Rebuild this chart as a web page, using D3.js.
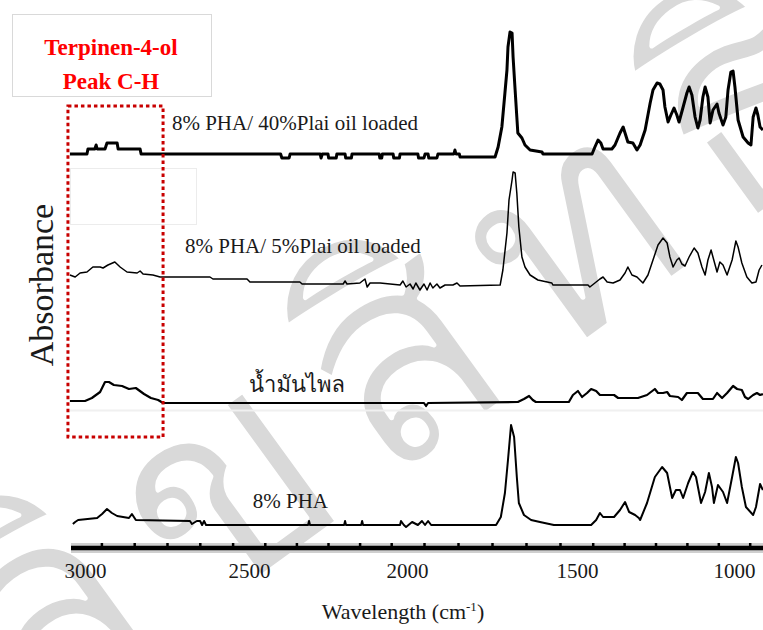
<!DOCTYPE html>
<html>
<head>
<meta charset="utf-8">
<script src="https://cdnjs.cloudflare.com/ajax/libs/d3/7.8.5/d3.min.js"></script>
<style>
body { margin: 0; background: #fff; }
svg { display: block; }
</style>
</head>
<body>
<div id="draw"></div>
<script>
// FTIR spectra, stacked. values are [wavenumber cm-1, absorbance above own baseline]
var traceNames = ['8% PHA/ 40%Plai oil loaded', '8% PHA/ 5%Plai oil loaded', 'น้ำมันไพล', '8% PHA'];
var traceOffsets = [3.91, 2.63, 1.45, 0.23];
var xTickValues = [3000, 2500, 2000, 1500, 1000];
var chRegion = [3052, 2762];   // Terpinen-4-ol C-H stretch band

var pha40 = [[3046,0.03],[2994,0.03],[2991,0.08],[2970,0.08],[2966,0.12],[2963,0.08],[2939,0.08],[2933,0.14],[2902,0.14],[2899,0.08],
  [2832,0.08],[2829,0.03],[2400,0.03],[2396,-0.01],[2373,-0.01],[2370,0.03],[2275,0.03],[2272,-0.01],[2268,0.03],
  [2250,0.03],[2248,-0.01],[2224,-0.01],[2222,0.03],[2196,0.03],[2194,-0.01],[2176,-0.01],[2174,0.03],
  [2088,0.03],[2086,-0.01],[2080,-0.01],[2078,0.03],[2044,0.03],[2042,-0.01],[2024,-0.01],[2022,0.03],
  [1968,0.03],[1966,-0.01],[1950,-0.01],[1947,0.03],[1938,0.03],[1936,-0.01],[1912,-0.01],[1909,0.03],
  [1862,0.03],[1859,0.07],[1856,0.03],[1846,0.03],[1844,0.0],[1741,0.0],
  [1732,0.10],[1721,0.30],[1712,0.64],[1706,0.87],[1703,1.10],[1697,1.25],[1691,1.24],[1688,1.00],[1682,0.67],[1677,0.40],
  [1674,0.24],[1662,0.19],[1653,0.12],[1638,0.07],[1603,0.05],[1600,0.03],[1452,0.03],[1443,0.10],[1433,0.17],[1424,0.14],
  [1417,0.08],[1389,0.08],[1379,0.12],[1363,0.24],[1353,0.30],[1347,0.24],[1338,0.15],[1322,0.14],[1309,0.07],[1299,0.12],
  [1283,0.27],[1267,0.54],[1258,0.67],[1245,0.74],[1236,0.73],[1226,0.67],[1220,0.50],[1210,0.35],[1201,0.42],[1191,0.49],
  [1182,0.42],[1175,0.35],[1162,0.50],[1150,0.64],[1143,0.70],[1134,0.62],[1124,0.40],[1115,0.29],[1108,0.37],[1099,0.60],
  [1092,0.70],[1083,0.60],[1076,0.34],[1067,0.47],[1054,0.53],[1048,0.44],[1035,0.32],[1026,0.40],[1019,0.67],[1010,0.85],
  [1003,0.86],[997,0.70],[987,0.37],[971,0.20],[955,0.14],[946,0.12],[939,0.40],[930,0.49],[924,0.42],[917,0.30],[908,0.27]];

var pha5 = [[3046,0.10],[3030,0.08],[3015,0.12],[2994,0.13],[2976,0.18],[2954,0.18],[2945,0.17],[2930,0.20],[2909,0.23],[2893,0.18],
  [2872,0.13],[2841,0.12],[2832,0.14],[2823,0.11],[2793,0.10],[2771,0.08],[2619,0.08],[2610,0.06],[2506,0.06],[2497,0.03],
  [2339,0.03],[2332,0.01],[2202,0.01],[2196,0.04],[2190,0.01],[2149,0.02],[2133,0.06],[2126,-0.02],[2117,0.02],[2085,0.02],
  [2022,0.0],[2013,0.04],[2003,-0.02],[1991,0.01],[1982,-0.04],[1974,0.02],[1962,-0.05],[1950,0.01],[1941,-0.05],[1932,0.02],
  [1924,-0.03],[1912,0.01],[1903,-0.03],[1888,0.0],[1865,0.0],[1853,0.02],[1844,-0.01],[1726,0.0],
  [1718,0.15],[1706,0.52],[1700,0.85],[1691,1.05],[1688,1.13],[1682,1.12],[1677,0.92],[1671,0.58],[1662,0.28],[1653,0.18],
  [1638,0.10],[1615,0.05],[1574,0.02],[1571,0.0],[1465,0.0],[1459,-0.02],[1443,0.02],[1427,0.06],[1417,0.08],[1404,0.03],
  [1385,0.02],[1363,0.05],[1347,0.12],[1338,0.18],[1325,0.10],[1309,0.08],[1290,0.02],[1274,0.10],[1258,0.25],[1242,0.40],
  [1226,0.47],[1213,0.42],[1204,0.28],[1194,0.18],[1182,0.25],[1175,0.27],[1166,0.21],[1156,0.19],[1143,0.28],[1127,0.37],
  [1115,0.32],[1102,0.18],[1092,0.10],[1083,0.25],[1073,0.35],[1067,0.28],[1054,0.13],[1045,0.23],[1035,0.20],[1022,0.10],
  [1006,0.25],[994,0.44],[987,0.38],[975,0.22],[959,0.08],[943,0.02],[930,0.03],[920,0.15],[911,0.20]];

var plaiOil = [[3046,0.02],[3000,0.02],[2979,0.05],[2954,0.11],[2939,0.21],[2927,0.21],[2912,0.18],[2887,0.17],[2866,0.14],[2845,0.15],
  [2820,0.09],[2799,0.05],[2777,0.03],[2762,0.0],[1950,0.0],[1944,-0.03],[1938,0.0],[1674,0.01],[1656,0.04],[1641,0.07],
  [1630,0.03],[1621,0.01],[1524,0.01],[1512,0.08],[1497,0.12],[1484,0.06],[1468,0.10],[1455,0.14],[1439,0.12],[1427,0.08],
  [1382,0.08],[1369,0.05],[1306,0.05],[1277,0.08],[1252,0.14],[1242,0.10],[1226,0.10],[1213,0.11],[1204,0.07],[1178,0.06],
  [1166,0.03],[1150,0.10],[1115,0.10],[1099,0.04],[1067,0.04],[1054,0.10],[1038,0.05],[1022,0.10],[1003,0.17],[990,0.14],
  [975,0.13],[965,0.06],[955,0.04],[939,0.08],[927,0.10],[917,0.08],[908,0.09]];

var pha = [[3037,0.01],[3030,0.03],[3021,0.05],[2963,0.07],[2948,0.11],[2933,0.16],[2918,0.12],[2902,0.09],[2866,0.07],[2857,0.11],
  [2845,0.05],[2680,0.04],[2674,0.01],[2659,0.04],[2649,0.04],[2643,0.0],[2637,0.04],[2631,0.0],[2313,0.0],[2310,0.04],[2307,0.0],
  [2199,0.0],[2196,0.04],[2193,0.0],[2145,0.0],[2142,0.04],[2139,0.0],[2022,0.0],[2019,0.04],[2010,0.0],[2003,-0.02],[1985,0.03],
  [1968,0.0],[1956,0.04],[1947,0.0],[1938,0.04],[1929,0.0],[1738,0.0],
  [1724,0.08],[1712,0.32],[1703,0.65],[1694,1.00],[1685,0.88],[1677,0.48],[1671,0.22],[1656,0.10],[1635,0.05],[1609,0.03],
  [1568,0.0],[1455,0.0],[1439,0.05],[1427,0.12],[1417,0.08],[1382,0.08],[1363,0.15],[1347,0.23],[1334,0.13],[1315,0.10],
  [1303,0.07],[1299,0.05],[1277,0.22],[1252,0.48],[1229,0.58],[1213,0.52],[1197,0.27],[1185,0.35],[1172,0.35],[1162,0.27],
  [1146,0.42],[1131,0.53],[1121,0.48],[1105,0.22],[1092,0.33],[1080,0.52],[1070,0.38],[1064,0.22],[1051,0.40],[1035,0.33],
  [1022,0.22],[1006,0.48],[994,0.68],[987,0.62],[975,0.38],[962,0.18],[939,0.10],[930,0.18],[917,0.41],[908,0.35]];

var traces = [pha40, pha5, plaiOil, pha];

var width = 763, height = 630;
var serif = '"Liberation Serif", "Times New Roman", serif';
var thai = 'Norasi, Kinnari, Laksaman, Loma, Garuda, "Noto Serif Thai", "Noto Sans Thai", sans-serif';

var svg = d3.select('#draw').append('svg')
    .attr('width', width).attr('height', height);

// scanned axis is not quite even, so a piecewise scale through the labels
var x = d3.scaleLinear().domain(xTickValues).range([85, 249, 407, 577, 734]);
var y = d3.scaleLinear().domain([0, 5.48]).range([548, 0]);

// watermark behind everything; white outline thins the strokes a little
svg.append('text')
    .attr('transform', 'translate(30,745) rotate(-36)')
    .style('font-family', thai)
    .style('font-size', '290px')
    .style('letter-spacing', '30px')
    .attr('fill', '#d9d9d9')
    .attr('stroke', '#fff')
    .attr('stroke-width', 5)
    .attr('stroke-linejoin', 'round')
    .text('ลิขสิทธิ์มหาวิทยาลัย');

// title box
svg.append('rect')
    .attr('x', 12.5).attr('y', 14.5).attr('width', 199).attr('height', 82)
    .attr('fill', '#fff').attr('stroke', '#d9d9d9');
svg.append('text')
    .attr('x', 111).attr('y', 55)
    .attr('text-anchor', 'middle')
    .style('font-family', serif)
    .style('font-size', '23px').style('font-weight', 'bold')
    .attr('fill', '#ff0000')
    .text('Terpinen-4-ol');
svg.append('text')
    .attr('x', 111).attr('y', 89)
    .attr('text-anchor', 'middle')
    .style('font-family', serif)
    .style('font-size', '23px').style('font-weight', 'bold')
    .attr('fill', '#ff0000')
    .text('Peak C-H');

// faint leftover frame and line from the scan
svg.append('rect')
    .attr('x', 70.5).attr('y', 168.5).attr('width', 126).attr('height', 56)
    .attr('fill', 'none').attr('stroke', '#ececec');
svg.append('line')
    .attr('x1', x(3046)).attr('x2', width).attr('y1', 410.5).attr('y2', 410.5)
    .attr('stroke', '#f0f0f0').attr('stroke-width', 2);

// spectra
var line = d3.line()
    .x(function(d){ return x(d[0]); });
var traceWidths = [3, 1.5, 2.2, 2];

svg.selectAll('path.trace')
    .data(traces)
    .enter()
    .append('path')
    .attr('class', 'trace')
    .attr('fill', 'none')
    .attr('stroke', '#000')
    .attr('stroke-linejoin', 'round')
    .attr('stroke-width', function(d, i){ return traceWidths[i]; })
    .attr('d', function(d, i){
        return line.y(function(p){ return y(p[1] + traceOffsets[i]); })(d);
    });

// trace labels
var labelAt = [[2735, 0.27], [2695, 0.32], [2500, 0.11], [2488, 0.17]];
svg.selectAll('text.label')
    .data(traceNames)
    .enter()
    .append('text')
    .attr('class', 'label')
    .attr('x', function(d, i){ return x(labelAt[i][0]); })
    .attr('y', function(d, i){ return y(labelAt[i][1] + traceOffsets[i]); })
    .style('font-family', function(d, i){ return i == 2 ? thai : serif; })
    .style('font-size', function(d, i){ return i == 2 ? '22px' : '21px'; })
    .attr('fill', '#1a1a1a')
    .text(function(d){ return d; });

// red dotted box around the C-H band
svg.append('rect')
    .attr('x', x(chRegion[0])).attr('y', 106)
    .attr('width', x(chRegion[1]) - x(chRegion[0])).attr('height', 331)
    .attr('fill', 'none')
    .attr('stroke', '#c80000')
    .attr('stroke-width', 3)
    .attr('stroke-dasharray', '3.5,3');

// x axis: thick scanned bar with a grey halo
svg.append('line')
    .attr('x1', 71).attr('x2', width).attr('y1', 548).attr('y2', 548)
    .attr('stroke', '#cfcfcf').attr('stroke-width', 10);

var xAxis = svg.append('g')
    .attr('transform', 'translate(0,548)')
    .call(d3.axisBottom(x).tickValues(xTickValues).tickSize(0).tickFormat(d3.format('d')))
    .attr('font-family', serif)
    .attr('font-size', 21);
xAxis.select('.domain')
    .attr('d', 'M71,0H' + width)
    .attr('stroke', '#000').attr('stroke-width', 4.5);
xAxis.selectAll('text')
    .attr('y', 30).attr('dy', null)
    .attr('fill', '#1a1a1a');

// minor tick dots sitting on the bar
svg.append('g')
    .attr('transform', 'translate(0,546)')
    .call(d3.axisBottom(x).tickValues(d3.range(2950, 900, -100)).tickSize(-3).tickFormat(''))
    .call(function(g){ g.select('.domain').remove(); })
    .selectAll('line').attr('stroke', '#000').attr('stroke-width', 2.5);

svg.append('text')
    .attr('x', 403).attr('y', 619)
    .attr('text-anchor', 'middle')
    .style('font-family', serif)
    .style('font-size', '22px')
    .attr('fill', '#1a1a1a')
    .call(function(t){
        t.append('tspan').text('Wavelength (cm');
        t.append('tspan').attr('dy', -8).style('font-size', '13px').text('-1');
        t.append('tspan').attr('dy', 8).text(')');
    });

svg.append('text')
    .attr('transform', 'translate(53,285) rotate(-90)')
    .attr('text-anchor', 'middle')
    .style('font-family', serif)
    .style('font-size', '34px')
    .attr('fill', '#1a1a1a')
    .text('Absorbance');
</script>
</body>
</html>
